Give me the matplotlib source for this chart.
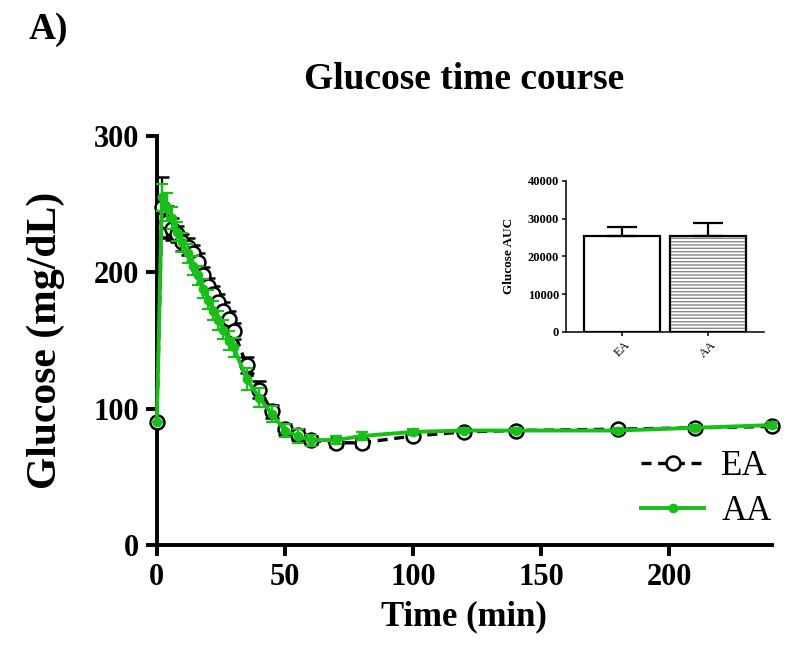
import numpy as np
import matplotlib
matplotlib.use('Agg')
import matplotlib.pyplot as plt
from matplotlib.lines import Line2D

plt.rcParams['font.family'] = ['Liberation Serif', 'DejaVu Serif']

# time course (min) and glucose (mg/dL), mean and SEM
time_min = [0, 2, 4, 6, 8, 10, 12, 14, 16, 18, 20, 22, 24, 26, 28, 30,
            35, 40, 45, 50, 55, 60, 70, 80, 100, 120, 140, 180, 210, 240]
ea_mean = [90, 248, 237, 232, 228, 222, 219, 214, 208, 198, 190, 184, 178, 172, 166, 157,
           132, 114, 98, 85, 81, 77, 75, 75, 80, 83, 84, 85, 86, 87]
ea_err = [0, 22, 12, 8, 6, 6, 6, 6, 6, 6, 6, 6, 6, 6, 6, 6,
          6, 6, 5, 4, 4, 3, 3, 3, 2, 2, 2, 2, 2, 2]
aa_mean = [90, 255, 248, 240, 230, 222, 214, 205, 198, 188, 180, 172, 165, 158, 150, 145,
           122, 108, 96, 84, 80, 77, 77, 80, 83, 84, 84, 84, 86, 88]
aa_err = [0, 10, 10, 8, 7, 7, 7, 7, 7, 7, 7, 7, 7, 7, 7, 7,
          8, 7, 6, 5, 5, 4, 3, 3, 2, 2, 2, 2, 2, 2]

# inset: area under curve
groups = ['EA', 'AA']
auc_mean = [25500, 25300]
auc_err = [2300, 3600]

green = '#17c017'

fig = plt.figure(figsize=(8, 6.45), dpi=100)
ax = fig.add_axes([0.196, 0.155, 0.769, 0.634])

ax.errorbar(time_min, ea_mean, yerr=ea_err, color='black', ls='--', lw=2.4,
            marker='o', ms=10, mfc='white', mec='black', mew=1.8,
            ecolor='black', elinewidth=1.6, capsize=5, capthick=1.6,
            clip_on=False, zorder=3, dashes=(3, 2))
ax.errorbar(time_min, aa_mean, yerr=aa_err, color=green, ls='-', lw=2.8,
            marker='o', ms=6, mfc=green, mec=green,
            ecolor=green, elinewidth=1.6, capsize=4, capthick=1.6,
            clip_on=False, zorder=4)

ax.set_xlim(0, 240)
ax.set_ylim(0, 300)
ax.set_xticks([0, 50, 100, 150, 200])
ax.set_yticks([0, 100, 200, 300])
for s in ['top', 'right']:
    ax.spines[s].set_visible(False)
for s in ['left', 'bottom']:
    ax.spines[s].set_linewidth(2.8)
ax.tick_params(direction='out', length=8, width=2.8, labelsize=22, pad=5)
for lab in ax.get_xticklabels() + ax.get_yticklabels():
    lab.set_fontweight('bold')
ax.set_xlabel('Time (min)', fontsize=25, fontweight='bold', labelpad=6)
ax.set_ylabel('Glucose (mg/dL)', fontsize=30, fontweight='bold', labelpad=20)
ax.set_title('Glucose time course', fontsize=27, fontweight='bold', pad=34)

handles = [Line2D([], [], color='black', ls='--', lw=2.4, dashes=(3, 2), marker='o',
                  ms=10, mfc='white', mec='black', mew=1.8),
           Line2D([], [], color=green, lw=2.8, marker='o', ms=6, mfc=green, mec=green)]
ax.legend(handles, ['EA', 'AA'], loc='lower right', bbox_to_anchor=(1.05, -0.035),
          frameon=False, fontsize=25, handlelength=1.8, handletextpad=0.5,
          labelspacing=0.35)

fig.text(0.036, 0.94, 'A)', fontsize=27, fontweight='bold')

# inset bar chart
ins = fig.add_axes([0.7075, 0.4853, 0.2475, 0.2345])
xpos = np.arange(len(groups))
ins.bar(xpos[0], auc_mean[0], width=0.89, color='white', edgecolor='black', lw=1.6)
ins.bar(xpos[1], auc_mean[1], width=0.89, color='white', edgecolor='#888888',
        hatch='-----', lw=0)
ins.bar(xpos[1], auc_mean[1], width=0.89, color='none', edgecolor='black', lw=1.6)
ins.errorbar(xpos, auc_mean, yerr=[[0, 0], auc_err], fmt='none', ecolor='black',
             elinewidth=1.6, capsize=11, capthick=1.6)
ins.set_xlim(-0.655, 1.655)
ins.set_ylim(0, 40000)
ins.set_yticks([0, 10000, 20000, 30000, 40000])
ins.set_xticks(xpos)
ins.set_xticklabels(groups, rotation=45, fontsize=8.5)
for s in ['top', 'right']:
    ins.spines[s].set_visible(False)
for s in ['left', 'bottom']:
    ins.spines[s].set_linewidth(1.1)
ins.tick_params(direction='out', length=3, width=1.1, labelsize=9, pad=2)
for lab in ins.get_yticklabels():
    lab.set_fontweight('bold')
ins.set_ylabel('Glucose AUC', fontsize=9.5, fontweight='bold', labelpad=9)

fig.savefig('out.png', dpi=100)
